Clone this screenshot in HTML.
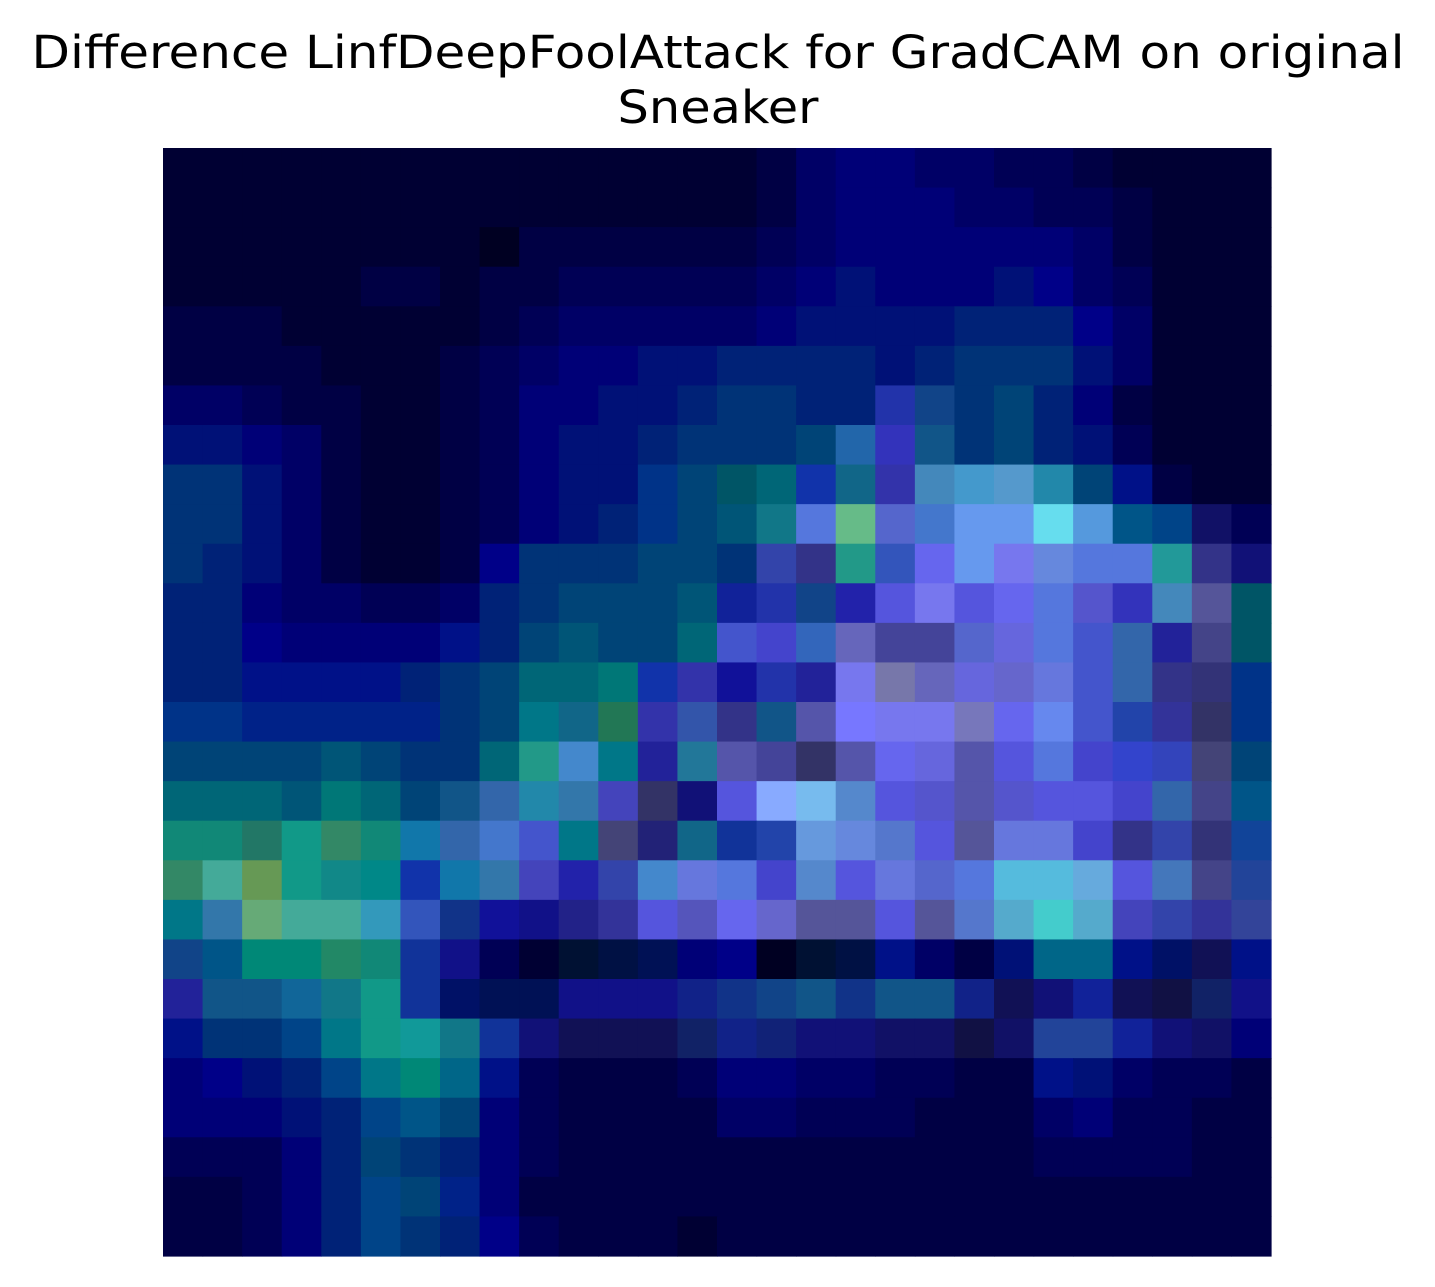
<!DOCTYPE html>
<html><head><meta charset="utf-8"><style>
html,body{margin:0;padding:0;background:#fff;}
svg{display:block;}
</style></head><body>
<svg id="chart" width="1435" height="1287" viewBox="0 0 1435 1287" xmlns="http://www.w3.org/2000/svg">
<rect width="1435" height="1287" fill="#fff"/>
<text x="718" y="68" text-anchor="middle" font-family="DejaVu Sans, Liberation Sans, sans-serif" font-size="45" textLength="1373" lengthAdjust="spacingAndGlyphs" fill="#000">Difference LinfDeepFoolAttack for GradCAM on original</text>
<text x="718" y="123" text-anchor="middle" font-family="DejaVu Sans, Liberation Sans, sans-serif" font-size="45" textLength="201" lengthAdjust="spacingAndGlyphs" fill="#000">Sneaker</text>
<g id="cells"></g>
</svg>
<script>
const leftHalf = [
"003 003 003 003 003 003 003 003 003 003 003 003 003 003",
"003 003 003 003 003 003 003 003 003 003 003 003 003 003",
"003 003 003 003 003 003 003 003 002 004 004 004 004 004",
"003 003 003 003 003 004 004 003 004 004 005 005 005 005",
"004 004 004 003 003 003 003 003 004 005 006 006 006 006",
"004 004 004 004 003 003 003 004 005 006 007 007 017 017",
"006 006 005 004 004 003 003 004 005 007 007 017 017 027",
"017 017 007 006 004 003 003 004 005 007 017 017 027 037",
"037 037 017 006 004 003 003 004 005 007 017 017 038 047",
"037 037 017 006 004 003 003 004 005 007 017 027 038 047",
"037 027 017 006 004 003 003 004 008 037 037 037 047 047",
"027 027 007 006 006 005 005 006 027 037 047 047 047 057",
"027 027 008 007 007 007 007 018 027 047 057 047 047 067",
"027 027 018 018 018 018 027 037 047 067 067 077 13a 33a",
"038 038 028 028 028 028 028 037 047 078 168 275 33a 35a",
"047 047 047 047 057 047 037 037 067 298 48c 078 229 279",
"067 067 067 057 077 067 047 158 36a 28a 37a 44b 336 117",
"187 187 276 198 386 187 17a 36a 47c 45c 078 447 227 168",
"386 4a9 695 198 188 088 13a 17a 37a 44b 22a 34a 48c 67d",
"078 37a 6a7 4a9 4a9 39b 35b 138 119 118 228 339 55d 55b",
"148 058 087 087 286 187 139 118 005 003 013 014 015 007",
"229 158 158 169 178 198 139 016 015 015 118 118 118 128",
"018 037 037 048 078 198 199 178 139 117 115 115 115 126",
"007 008 017 027 048 078 087 068 018 005 004 004 004 005",
"007 007 007 017 027 048 058 047 007 005 004 004 004 004",
"005 005 005 007 027 047 037 027 007 005 004 004 004 004",
"004 004 005 007 027 048 047 028 007 004 004 004 004 004",
"004 004 005 007 027 048 037 027 008 005 004 004 004 003"
];
const rightHalf = [
"003 004 006 007 007 006 006 005 005 004 003 003 003 003",
"003 004 006 007 007 007 006 006 005 005 004 003 003 003",
"004 005 006 007 007 007 007 007 007 006 004 003 003 003",
"005 006 007 017 007 007 007 017 008 006 005 003 003 003",
"006 007 017 017 017 017 027 027 027 008 006 003 003 003",
"027 027 027 027 017 027 037 037 037 017 006 003 003 003",
"037 037 027 027 23a 148 037 047 027 007 004 003 003 003",
"037 037 047 26a 33b 158 037 047 027 017 005 003 003 003",
"056 067 13a 168 33a 48b 49c 59c 28a 047 018 004 003 003",
"057 178 57d 6b8 56c 47c 69e 69e 6de 59d 058 048 116 005",
"037 34a 338 298 35b 66e 69e 77e 68d 57d 57d 299 338 117",
"129 23a 148 22a 55d 77e 55d 66e 57d 55c 33b 48b 559 056",
"45c 44c 36b 66b 449 449 56c 66d 57d 45c 36a 229 448 056",
"119 23a 229 77e 77a 66b 66d 66c 67d 45c 36a 338 337 038",
"338 158 55a 77f 77e 77e 77b 66e 68e 45c 24a 339 336 038",
"55a 449 336 55a 66e 66d 55a 55d 57d 44c 34c 34b 447 047",
"55d 8af 7be 58c 55d 55c 55a 55c 55d 55d 44c 36a 448 058",
"139 24a 69d 68d 57c 55d 559 67d 67d 44c 338 34a 337 149",
"57d 44c 58c 55d 67d 56c 57d 5bd 5bd 6ad 55d 47b 448 249",
"66e 66c 559 559 55d 559 57c 5ac 4cc 5ac 44b 34a 339 349",
"008 002 013 014 018 006 004 017 068 068 018 016 115 018",
"138 148 158 138 158 158 128 115 117 129 115 114 126 118",
"128 127 117 117 116 116 114 116 249 249 129 117 116 007",
"007 007 006 006 005 005 004 004 018 017 006 005 005 004",
"006 006 005 005 005 004 004 004 006 007 005 005 004 004",
"004 004 004 004 004 004 004 004 005 005 005 005 004 004",
"004 004 004 004 004 004 004 004 004 004 004 004 004 004",
"004 004 004 004 004 004 004 004 004 004 004 004 004 004"
];
const plotX0 = 163, plotY0 = 148, plotSize = 1108;
const nRows = leftHalf.length, nCols = 28;
const cw = plotSize / nCols, ch = plotSize / nRows;
function xScale(c){ return plotX0 + c * cw; }
function yScale(r){ return plotY0 + r * ch; }
const g = document.getElementById('cells');
const NS = 'http://www.w3.org/2000/svg';
for (let r = 0; r < nRows; r++) {
  const vals = (leftHalf[r] + ' ' + rightHalf[r]).split(' ');
  for (let c = 0; c < vals.length; c++) {
    const rect = document.createElementNS(NS, 'rect');
    rect.setAttribute('x', xScale(c).toFixed(2));
    rect.setAttribute('y', yScale(r).toFixed(2));
    rect.setAttribute('width', (cw + 0.6).toFixed(2));
    rect.setAttribute('height', (ch + 0.6).toFixed(2));
    rect.setAttribute('fill', '#' + vals[c]);
    
    
    g.appendChild(rect);
  }
}
</script>
</body></html>
